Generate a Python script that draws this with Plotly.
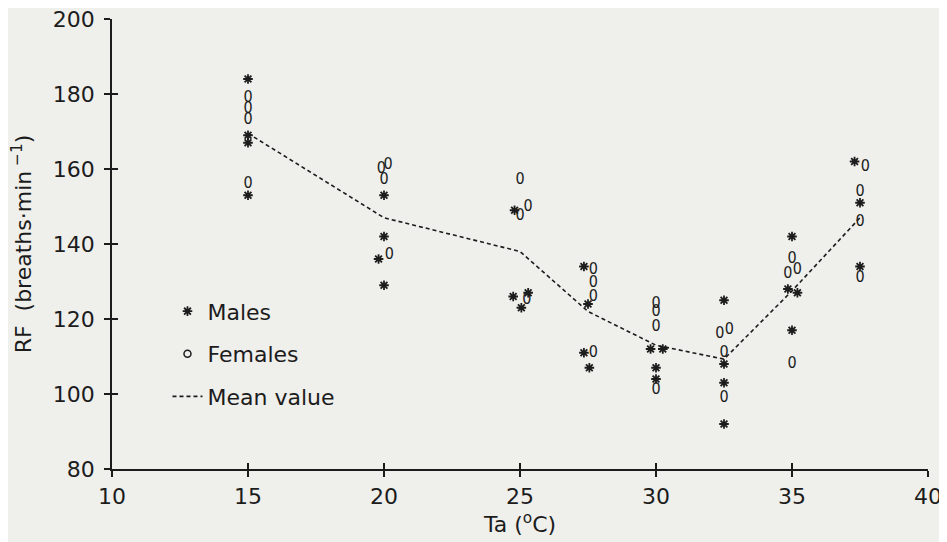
import plotly.graph_objects as go

# ---- data ----
male_x = [15, 15, 15, 15,
          20, 20, 19.8, 20,
          24.8, 24.75, 25.3, 25.05,
          27.35, 27.5, 27.35, 27.55,
          29.8, 30.25, 30, 30,
          32.5, 32.5, 32.5, 32.5,
          35, 34.85, 35.2, 35,
          37.3, 37.5, 37.5]
male_y = [184, 169, 167, 153,
          153, 142, 136, 129,
          149, 126, 127, 123,
          134, 124, 111, 107,
          112, 112, 107, 104,
          125, 108, 103, 92,
          142, 128, 127, 117,
          162, 151, 134]

female_x = [15, 15, 15, 15,
            19.9, 20.15, 20.0, 20.2,
            25.0, 25.3, 25.0, 25.25,
            27.7, 27.7, 27.7, 27.7,
            30, 30, 30, 30,
            32.35, 32.7, 32.5, 32.5,
            35, 34.85, 35.2, 35,
            37.7, 37.5, 37.5, 37.5]
female_y = [179, 176, 173, 156,
            160, 161, 157, 137,
            157, 150, 147.5, 125,
            133, 129.5, 126, 111,
            124, 122, 118, 101,
            116, 117, 111, 99,
            136, 132, 133, 108,
            160.5, 154, 146, 131]

mean_x = [15, 20, 25, 27.5, 30, 32.5, 35, 37.5]
mean_y = [169.5, 147, 138, 122, 113, 109.3, 127.5, 147]

x_ticks = [10, 15, 20, 25, 30, 35, 40]
y_ticks = [80, 100, 120, 140, 160, 180, 200]

INK = "#1c1c1c"
BG = "#efefec"
FONT = "DejaVu Sans, Liberation Sans, sans-serif"
FS = 22

fig = go.Figure()

fig.add_trace(go.Scatter(
    x=mean_x, y=mean_y, mode="lines", name="Mean value",
    line=dict(color=INK, width=1.6, dash="4px,3px"),
    legendgroup="c", legendrank=3,
))
fig.add_trace(go.Scatter(
    x=male_x, y=male_y, mode="markers", name="Males",
    marker=dict(symbol="asterisk-open", size=8, color=INK,
                line=dict(color=INK, width=1.8)),
    legendgroup="a", legendrank=1,
))
fig.add_trace(go.Scatter(
    x=female_x, y=female_y, mode="text", text=["0"] * len(female_x),
    textposition="middle center", showlegend=False,
    textfont=dict(family="DejaVu Sans Condensed, DejaVu Sans", size=16, color=INK),
))
fig.add_trace(go.Scatter(
    x=[None], y=[None], mode="markers", name="Females",
    marker=dict(symbol="circle-open", size=7, color=INK,
                line=dict(color=INK, width=1.5)),
    legendgroup="b", legendrank=2,
))
# empty trace to materialise the overlay axes used for crossing ticks
fig.add_trace(go.Scatter(x=[], y=[], xaxis="x2", yaxis="y2",
                         showlegend=False, hoverinfo="skip"))

axis_common = dict(showgrid=False, zeroline=False, color=INK, automargin=False)

# page body has an 8px margin, so the figure is sized/placed to compensate
fig.update_layout(
    width=939, height=534,
    margin=dict(l=104, r=19, t=11, b=73, autoexpand=False),
    paper_bgcolor=BG, plot_bgcolor=BG,
    font=dict(family=FONT, size=FS, color=INK),
    xaxis=dict(range=[10, 40], tickvals=x_ticks, ticktext=[str(v) for v in x_ticks],
               showline=True, linecolor=INK, linewidth=1.5,
               ticks="outside", ticklen=6, tickwidth=1.5, tickcolor=INK,
               ticklabelstandoff=1, ticklabeloverflow="allow",
               title=dict(text="Ta (<sup>o</sup>C)", standoff=2,
                          font=dict(size=FS)),
               **axis_common),
    yaxis=dict(range=[80, 200], tickvals=y_ticks, ticktext=[str(v) for v in y_ticks],
               showline=True, linecolor=INK, linewidth=1.5,
               ticks="outside", ticklen=6, tickwidth=1.5, tickcolor=INK,
               ticklabelstandoff=5, ticklabeloverflow="allow",
               title=dict(text="RF  (breaths·min<sup> −1</sup>)", standoff=22,
                          font=dict(size=FS)),
               **axis_common),
    xaxis2=dict(range=[10, 40], tickvals=x_ticks, overlaying="x", anchor="y2",
                side="bottom", showticklabels=False, showline=False,
                ticks="inside", ticklen=6, tickwidth=1.5, tickcolor=INK,
                **axis_common),
    yaxis2=dict(range=[80, 200], tickvals=y_ticks, overlaying="y", anchor="x2",
                side="left", showticklabels=False, showline=False,
                ticks="inside", ticklen=6, tickwidth=1.5, tickcolor=INK,
                **axis_common),
    legend=dict(x=0.068, y=0.397, xanchor="left", yanchor="top",
                bgcolor="rgba(0,0,0,0)", font=dict(size=FS, family=FONT),
                tracegroupgap=11, itemwidth=30),
    showlegend=True,
)

fig.write_html("out.html")
